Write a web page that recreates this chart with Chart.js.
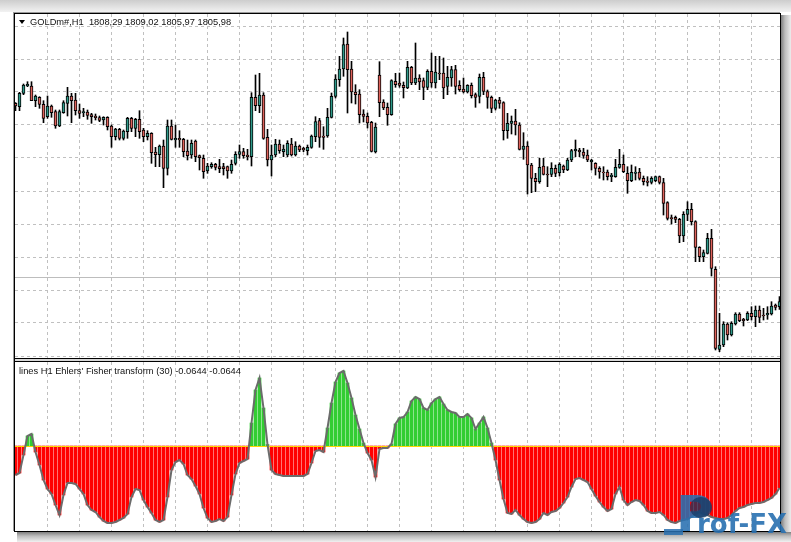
<!DOCTYPE html>
<html>
<head>
<meta charset="utf-8">
<script src="https://cdn.jsdelivr.net/npm/chart.js@4.4.0/dist/chart.umd.min.js"></script>
<style>
  html, body { margin: 0; padding: 0; background: #fff; }
  #stage { position: relative; width: 791px; height: 542px; overflow: hidden; background: #fff; }
  #shade { position: absolute; left: 0; top: 0; width: 791px; height: 12px; background: linear-gradient(#cdcdcd, #f2f2f2); }
  #shadeR { position: absolute; left: 781px; top: 15px; width: 10px; height: 527px;
            background: linear-gradient(to right, #7e7e7e, #bdbdbd 40%, #ececec); }
  #shadeB { position: absolute; left: 17px; top: 532px; width: 774px; height: 10px;
            background: linear-gradient(#7e7e7e, #bdbdbd 40%, #f0f0f0); }
  #frame { position: absolute; left: 14px; top: 13px; width: 765px; height: 517px; border: 1px solid #000;
           background: #fff; box-shadow: -1px -1px 0 #9a9a9a; }
  canvas { position: absolute; display: block; }
  .sep { position: absolute; left: 15px; width: 765px; height: 1px; background: #000; }
  .lbl { position: absolute; font-family: "Liberation Sans", Arial, sans-serif; font-size: 9.3px;
         line-height: 11px; color: #111; white-space: pre; }
  #tri { position: absolute; left: 19px; top: 20px; width: 0; height: 0;
         border-left: 3px solid transparent; border-right: 3px solid transparent; border-top: 4px solid #000; }
  #wmP { position: absolute; left: 676px; top: 488px; font-family: "DejaVu Sans", sans-serif; font-weight: bold;
         font-size: 50px; line-height: 52px; color: rgba(40,112,176,.88); }
  #wmDot { position: absolute; left: 690px; top: 497px; width: 22px; height: 21px; border-radius: 50%;
           background: rgba(24,56,96,.75); }
  #wmBar { position: absolute; left: 664px; top: 529px; width: 19px; height: 6px; background: rgba(40,112,176,.85); }
  #wmT { position: absolute; left: 697px; top: 509px; font-family: "DejaVu Sans", sans-serif; font-weight: bold;
         font-size: 26px; line-height: 30px; color: rgba(40,112,176,.9); white-space: pre; }
</style>
</head>
<body>
<div id="stage">
  <div id="shade"></div>
  <div id="shadeR"></div>
  <div id="shadeB"></div>
  <div id="frame"></div>
  <canvas id="priceChart" width="765" height="344" style="left:15px;top:14px"></canvas>
  <div class="sep" style="top:358px"></div>
  <div class="sep" style="top:359px;height:2px;background:#d8d8d8"></div>
  <div class="sep" style="top:361px"></div>
  <canvas id="fisherChart" width="765" height="169" style="left:15px;top:362px"></canvas>
  <div id="tri"></div>
  <div class="lbl" style="left:30px;top:17px">GOLDm#,H1  1808,29 1809,02 1805,97 1805,98</div>
  <div class="lbl" style="left:19px;top:366px">lines H1 Ehlers' Fisher transform (30) -0.0644 -0.0644</div>
  <div id="wmBar"></div>
  <div id="wmP">P</div>
  <div id="wmDot"></div>
  <div id="wmT">rof-FX</div>
</div>
<script>
"use strict";

// GOLDm# H1 candles, oldest first
const opens = [
  1825.37, 1825.03, 1826.37, 1827.10, 1827.10, 1825.63, 1825.97, 1825.27, 1824.03, 1825.10,
  1824.53, 1823.10, 1824.43, 1825.37, 1826.10, 1825.70, 1824.63, 1824.43, 1824.50, 1824.23,
  1824.10, 1823.93, 1823.70, 1823.97, 1823.10, 1822.03, 1822.77, 1821.87, 1822.53, 1823.87,
  1822.87, 1823.77, 1822.70, 1822.03, 1822.37, 1820.50, 1820.23, 1821.10, 1818.87, 1823.10,
  1821.70, 1821.87, 1821.77, 1820.60, 1820.20, 1821.60, 1820.13, 1819.87, 1818.60, 1819.03,
  1819.27, 1819.03, 1819.03, 1819.03, 1818.60, 1819.37, 1820.27, 1820.53, 1820.20, 1820.03,
  1825.97, 1825.13, 1826.20, 1821.97, 1819.70, 1820.20, 1821.30, 1820.53, 1820.20, 1821.30,
  1820.20, 1821.10, 1820.87, 1820.63, 1820.97, 1822.03, 1823.63, 1822.10, 1822.10, 1823.97,
  1826.07, 1827.73, 1828.80, 1831.30, 1828.80, 1826.50, 1826.30, 1824.30, 1824.07, 1823.47,
  1820.50, 1828.20, 1825.50, 1824.97, 1824.23, 1827.57, 1827.40, 1827.17, 1826.90, 1828.97,
  1827.40, 1827.90, 1827.63, 1826.97, 1828.57, 1827.40, 1828.40, 1828.40, 1827.07, 1827.90,
  1828.73, 1827.17, 1826.80, 1826.50, 1827.17, 1826.23, 1826.07, 1827.97, 1826.53, 1825.97,
  1824.87, 1825.70, 1825.43, 1822.63, 1823.37, 1823.60, 1823.20, 1820.77, 1821.10, 1819.20,
  1817.87, 1817.53, 1819.10, 1818.30, 1818.27, 1818.87, 1818.43, 1819.10, 1818.70, 1819.70,
  1820.60, 1820.70, 1820.50, 1820.20, 1819.50, 1819.37, 1818.87, 1818.50, 1818.50, 1818.03,
  1818.03, 1818.97, 1819.27, 1818.37, 1817.63, 1818.37, 1818.50, 1817.87, 1817.60, 1817.47,
  1817.63, 1818.03, 1817.43, 1815.43, 1813.93, 1813.97, 1813.77, 1812.10, 1814.27, 1814.77,
  1813.53, 1810.97, 1810.03, 1810.37, 1811.87, 1808.77, 1800.77, 1801.20, 1803.30, 1802.20,
  1803.30, 1804.30, 1803.77, 1803.70, 1804.37, 1804.03, 1804.70, 1804.20, 1804.20, 1804.30,
  1805.20, 1805.03
];
const highs = [
  1825.43, 1826.47, 1827.30, 1827.53, 1827.53, 1826.20, 1826.03, 1825.63, 1826.10, 1825.20,
  1824.70, 1824.70, 1825.63, 1826.97, 1826.37, 1826.37, 1825.30, 1824.87, 1824.70, 1824.37,
  1824.30, 1824.10, 1824.03, 1824.03, 1823.20, 1822.87, 1822.87, 1822.70, 1823.97, 1823.97,
  1823.87, 1824.63, 1822.87, 1822.63, 1822.43, 1820.97, 1821.20, 1821.70, 1823.70, 1823.70,
  1823.20, 1822.63, 1821.87, 1821.70, 1821.70, 1821.70, 1820.20, 1820.20, 1819.37, 1819.43,
  1819.37, 1819.77, 1819.37, 1819.10, 1819.70, 1820.53, 1821.20, 1820.87, 1820.77, 1826.43,
  1828.20, 1828.37, 1826.43, 1822.77, 1821.20, 1821.77, 1821.70, 1821.20, 1821.63, 1821.87,
  1821.53, 1821.20, 1820.97, 1821.20, 1822.20, 1824.03, 1823.87, 1823.03, 1824.87, 1826.40,
  1828.23, 1830.07, 1831.90, 1832.50, 1829.57, 1827.23, 1826.73, 1824.73, 1824.40, 1823.57,
  1823.40, 1829.53, 1825.73, 1825.40, 1827.73, 1828.37, 1828.40, 1827.50, 1829.57, 1829.07,
  1831.40, 1828.23, 1827.90, 1828.73, 1830.40, 1830.07, 1830.07, 1829.90, 1829.07, 1829.07,
  1829.17, 1827.63, 1827.90, 1827.23, 1827.40, 1826.40, 1828.30, 1828.47, 1826.70, 1826.10,
  1825.77, 1825.97, 1825.53, 1824.37, 1824.10, 1824.77, 1823.43, 1822.43, 1821.53, 1819.37,
  1818.37, 1819.87, 1819.87, 1819.03, 1819.43, 1819.20, 1819.43, 1819.20, 1819.87, 1820.77,
  1821.70, 1820.87, 1820.87, 1820.70, 1819.77, 1819.43, 1819.03, 1819.03, 1818.70, 1818.37,
  1819.77, 1820.77, 1820.20, 1819.03, 1819.20, 1819.03, 1818.87, 1818.10, 1818.03, 1818.03,
  1818.10, 1818.10, 1817.87, 1815.53, 1814.20, 1814.10, 1813.87, 1814.53, 1815.53, 1815.37,
  1813.63, 1811.03, 1810.70, 1812.37, 1812.77, 1809.03, 1804.37, 1803.53, 1803.43, 1803.53,
  1804.43, 1804.43, 1803.87, 1804.53, 1805.03, 1805.10, 1805.10, 1804.87, 1805.03, 1805.53,
  1805.30, 1806.03
];
const lows = [
  1824.63, 1824.63, 1826.23, 1827.03, 1825.63, 1825.03, 1824.87, 1823.43, 1823.87, 1823.97,
  1822.87, 1823.03, 1824.37, 1824.10, 1823.43, 1824.20, 1823.87, 1824.03, 1823.77, 1823.37,
  1823.70, 1823.53, 1823.20, 1822.70, 1820.97, 1821.70, 1821.70, 1821.70, 1821.87, 1822.53,
  1822.03, 1821.87, 1821.53, 1821.70, 1819.37, 1819.03, 1819.03, 1816.93, 1818.20, 1821.70,
  1820.97, 1820.97, 1820.03, 1819.70, 1819.87, 1819.53, 1818.70, 1817.87, 1818.37, 1818.87,
  1818.70, 1818.43, 1818.20, 1817.87, 1818.37, 1819.20, 1819.87, 1819.87, 1819.70, 1819.10,
  1824.63, 1824.43, 1821.77, 1819.10, 1818.10, 1820.03, 1820.37, 1820.03, 1820.03, 1820.10,
  1820.10, 1820.53, 1820.53, 1820.20, 1820.87, 1821.53, 1820.97, 1820.77, 1821.97, 1823.90,
  1825.90, 1827.07, 1828.07, 1824.40, 1825.40, 1825.30, 1823.40, 1823.50, 1822.90, 1820.50,
  1820.40, 1824.03, 1824.73, 1823.17, 1824.17, 1826.97, 1826.97, 1825.90, 1826.83, 1827.23,
  1827.23, 1826.73, 1825.73, 1826.73, 1826.97, 1826.90, 1827.73, 1825.83, 1826.23, 1827.07,
  1826.30, 1826.57, 1826.40, 1826.40, 1825.90, 1824.97, 1825.40, 1826.23, 1824.87, 1824.43,
  1824.70, 1824.87, 1821.70, 1821.87, 1822.30, 1822.20, 1820.70, 1819.77, 1816.30, 1816.43,
  1816.53, 1817.37, 1818.20, 1817.03, 1818.03, 1818.03, 1818.10, 1818.43, 1818.63, 1819.53,
  1820.03, 1820.03, 1819.87, 1819.53, 1818.70, 1818.20, 1817.87, 1817.70, 1817.70, 1817.53,
  1817.97, 1818.87, 1818.43, 1816.37, 1817.53, 1817.70, 1817.70, 1817.20, 1817.10, 1817.30,
  1817.53, 1817.30, 1814.20, 1813.70, 1813.30, 1813.43, 1811.43, 1811.53, 1813.63, 1813.20,
  1809.53, 1809.53, 1809.53, 1810.30, 1808.10, 1800.70, 1800.53, 1801.03, 1801.70, 1802.10,
  1803.20, 1803.53, 1803.10, 1803.63, 1803.70, 1803.03, 1803.43, 1803.70, 1803.77, 1804.20,
  1804.70, 1804.77
];
const closes = [
  1825.10, 1826.37, 1827.20, 1827.27, 1825.63, 1826.10, 1825.27, 1823.87, 1825.10, 1824.43,
  1823.10, 1824.53, 1825.43, 1826.10, 1825.63, 1824.63, 1824.37, 1824.53, 1824.17, 1824.03,
  1823.93, 1823.67, 1823.97, 1823.03, 1822.03, 1822.80, 1821.87, 1822.60, 1823.87, 1822.87,
  1823.77, 1822.53, 1822.03, 1822.37, 1820.43, 1820.23, 1821.10, 1818.87, 1823.10, 1821.77,
  1821.87, 1821.70, 1820.53, 1820.13, 1821.37, 1820.03, 1819.93, 1818.53, 1819.10, 1819.27,
  1818.97, 1818.83, 1818.83, 1818.60, 1819.27, 1820.27, 1820.53, 1820.13, 1820.03, 1825.97,
  1825.13, 1826.20, 1821.87, 1819.70, 1820.20, 1821.30, 1820.63, 1820.80, 1821.37, 1820.20,
  1821.10, 1820.70, 1820.70, 1820.97, 1822.10, 1823.53, 1821.97, 1821.97, 1823.97, 1826.07,
  1827.80, 1828.80, 1831.23, 1828.73, 1826.50, 1826.23, 1824.23, 1824.07, 1823.40, 1820.57,
  1823.00, 1825.43, 1824.90, 1824.23, 1827.63, 1827.23, 1827.17, 1826.93, 1828.97, 1827.40,
  1827.90, 1827.50, 1826.97, 1828.57, 1827.40, 1828.50, 1828.30, 1826.90, 1827.97, 1828.73,
  1827.07, 1826.73, 1826.50, 1827.17, 1826.13, 1825.97, 1827.97, 1826.57, 1825.97, 1824.87,
  1825.70, 1825.37, 1822.63, 1823.37, 1823.60, 1823.20, 1820.77, 1821.10, 1819.20, 1817.87,
  1817.53, 1818.97, 1818.27, 1818.20, 1818.87, 1818.37, 1819.27, 1818.70, 1819.70, 1820.63,
  1820.80, 1820.50, 1820.17, 1819.70, 1819.70, 1818.87, 1818.50, 1818.43, 1818.03, 1818.20,
  1818.97, 1819.27, 1818.53, 1817.63, 1818.47, 1818.50, 1817.87, 1817.53, 1817.47, 1817.87,
  1818.03, 1817.47, 1815.37, 1813.87, 1813.83, 1813.77, 1812.10, 1814.27, 1814.77, 1813.53,
  1810.97, 1810.03, 1810.43, 1811.87, 1808.87, 1800.87, 1801.20, 1803.30, 1802.20, 1803.37,
  1804.30, 1803.63, 1803.63, 1804.37, 1804.03, 1804.70, 1803.97, 1804.10, 1804.37, 1805.10,
  1804.97, 1805.53
];

// Ehlers' Fisher transform (30), one value per candle
const fisher = [
  -0.58, -0.54, -0.18, 0.20, 0.24, -0.12, -0.38, -0.68, -0.86, -0.96,
  -1.18, -1.38, -0.98, -0.74, -0.74, -0.76, -0.86, -0.96, -1.18, -1.28,
  -1.32, -1.42, -1.50, -1.54, -1.54, -1.52, -1.48, -1.44, -1.36, -1.02,
  -0.86, -0.88, -1.08, -1.22, -1.34, -1.48, -1.52, -1.48, -1.02, -0.48,
  -0.32, -0.28, -0.36, -0.58, -0.66, -0.80, -0.96, -1.24, -1.44, -1.52,
  -1.50, -1.46, -1.50, -1.42, -0.98, -0.56, -0.34, -0.30, -0.26, 0.46,
  1.12, 1.36, 0.76, 0.03, -0.48, -0.56, -0.58, -0.60, -0.60, -0.60,
  -0.60, -0.60, -0.60, -0.56, -0.34, -0.10, -0.08, -0.12, 0.36, 0.86,
  1.28, 1.46, 1.50, 1.26, 0.96, 0.62, 0.34, 0.06, -0.14, -0.28,
  -0.62, -0.06, -0.04, -0.04, 0.04, 0.44, 0.56, 0.58, 0.68, 0.90,
  0.98, 0.94, 0.76, 0.72, 0.86, 0.94, 0.98, 0.84, 0.72, 0.68,
  0.66, 0.58, 0.58, 0.64, 0.56, 0.34, 0.46, 0.58, 0.36, 0.06,
  -0.28, -0.68, -1.06, -1.34, -1.36, -1.28, -1.38, -1.46, -1.52, -1.54,
  -1.52, -1.46, -1.34, -1.38, -1.32, -1.30, -1.24, -1.14, -1.02, -0.82,
  -0.66, -0.64, -0.68, -0.72, -0.86, -1.00, -1.12, -1.22, -1.30, -1.26,
  -0.96, -0.82, -1.08, -1.18, -1.12, -1.08, -1.10, -1.18, -1.30, -1.34,
  -1.34, -1.32, -1.38, -1.48, -1.52, -1.54, -1.50, -1.48, -1.46, -1.42,
  -1.36, -1.32, -1.36, -1.38, -1.42, -1.44, -1.46, -1.46, -1.44, -1.38,
  -1.30, -1.24, -1.22, -1.18, -1.16, -1.14, -1.14, -1.12, -1.08, -1.04,
  -0.96, -0.84
];

// grid levels (no labels are shown on this crop of the terminal)
const priceGrid = [1833.1, 1829.8, 1826.5, 1823.2, 1819.9, 1816.6, 1813.3, 1810.0, 1806.7, 1803.4, 1800.1];
const barGrid = [8, 16, 24, 32, 40, 48, 56, 64, 72, 80, 88, 96, 104, 112, 120, 128, 136, 144, 152, 160, 168, 176, 184];
const priceLevel = 1808.0;
const zeroLevel = 0;

const BULL = "#2f9a8a";
const BEAR = "#de625b";
const GRID = "#c0c0c0";

const idx = opens.map((_, i) => i);

function xScale() {
  return {
    type: "linear", min: -0.125, max: 191.125, offset: false,
    ticks: { display: false },
    grid: { offset: false, drawTicks: false, color: GRID, lineWidth: 1 },
    border: { display: false, dash: [3, 3] },
    afterBuildTicks: (s) => { s.ticks = barGrid.map((v) => ({ value: v })); },
  };
}

function baseOpts() {
  return {
    responsive: false, animation: false, events: [],
    layout: { padding: 0 },
    plugins: { legend: { display: false }, tooltip: { enabled: false } },
  };
}

const levelLine = {
  id: "levelLine",
  beforeDatasetsDraw(chart, args, opts) {
    if (opts.when !== "before") return;
    drawLevel(chart, opts);
  },
  afterDatasetDraw(chart, args, opts) {
    if (opts.when !== "afterBars" || args.meta.type !== "bar") return;
    drawLevel(chart, opts);
  },
};

function drawLevel(chart, opts) {
  const { ctx, chartArea } = chart;
  const y = Math.round(chart.scales.y.getPixelForValue(opts.value)) + 0.5;
  ctx.save();
  ctx.strokeStyle = opts.color;
  ctx.lineWidth = 1;
  ctx.beginPath();
  ctx.moveTo(chartArea.left, y);
  ctx.lineTo(chartArea.right, y);
  ctx.stroke();
  ctx.restore();
}

new Chart(document.getElementById("priceChart"), {
  type: "bar",
  data: {
    datasets: [
      { label: "body", data: idx.map((i) => ({ x: i, y: [opens[i], closes[i]] })),
        backgroundColor: idx.map((i) => (closes[i] >= opens[i] ? BULL : BEAR)),
        borderColor: "#000", borderWidth: 1, borderSkipped: false,
        barThickness: 3, grouped: false, order: 0 },
      { label: "wick", data: idx.map((i) => ({ x: i, y: [lows[i], highs[i]] })),
        backgroundColor: "#000", borderWidth: 0, barThickness: 1, grouped: false, order: 1 },
    ],
  },
  options: {
    ...baseOpts(),
    plugins: { ...baseOpts().plugins, levelLine: { when: "before", value: priceLevel, color: "#bdbdbd" } },
    scales: {
      x: xScale(),
      y: { min: 1799.9, max: 1834.3,
           ticks: { display: false },
           grid: { drawTicks: false, color: GRID },
           border: { display: false, dash: [3, 3] },
           afterBuildTicks: (s) => { s.ticks = priceGrid.map((v) => ({ value: v })); } },
    },
  },
  plugins: [levelLine],
});

new Chart(document.getElementById("fisherChart"), {
  type: "bar",
  data: {
    datasets: [
      { type: "line", label: "line", data: idx.map((i) => ({ x: i, y: fisher[i] })),
        borderColor: "#6b6b6b", borderWidth: 2, pointRadius: 0, tension: 0, order: 0 },
      { type: "bar", label: "hist", data: idx.map((i) => ({ x: i, y: fisher[i] })),
        backgroundColor: idx.map((i) => (fisher[i] >= 0 ? "#32cd32" : "#ff0000")),
        borderWidth: 0, barThickness: 3, grouped: false, order: 1 },
    ],
  },
  options: {
    ...baseOpts(),
    plugins: { ...baseOpts().plugins, levelLine: { when: "afterBars", value: zeroLevel, color: "#ffd700" } },
    scales: {
      x: xScale(),
      y: { min: -1.70, max: 1.68, ticks: { display: false },
           grid: { display: false, drawTicks: false }, border: { display: false } },
    },
  },
  plugins: [levelLine],
});
</script>
</body>
</html>
